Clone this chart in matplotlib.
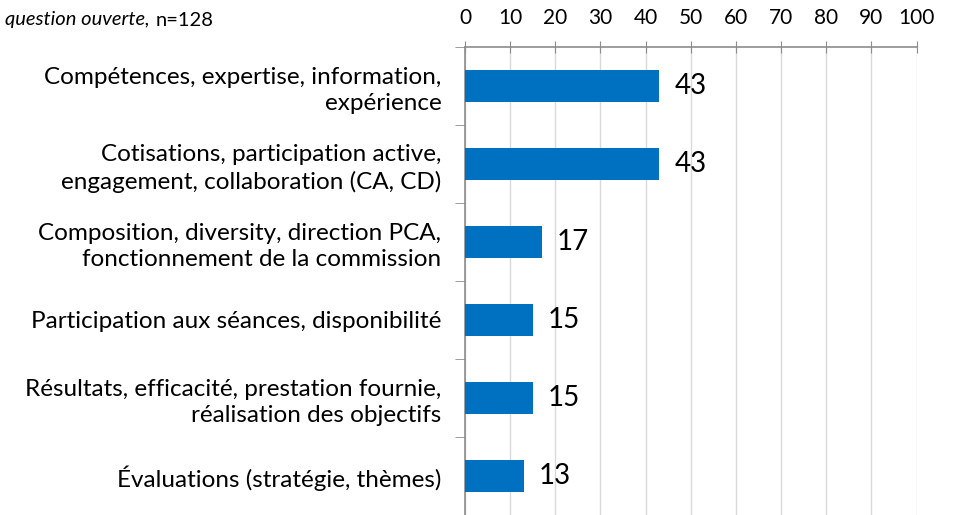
import matplotlib.pyplot as plt
import numpy as np

categories = [
    "Compétences, expertise, information,\nexpérience",
    "Cotisations, participation active,\nengagement, collaboration (CA, CD)",
    "Composition, diversity, direction PCA,\nfonctionnement de la commission",
    "Participation aux séances, disponibilité",
    "Résultats, efficacité, prestation fournie,\nréalisation des objectifs",
    "Évaluations (stratégie, thèmes)",
]
values = [43, 43, 17, 15, 15, 13]
xticks = list(range(0, 101, 10))

plt.rcParams['font.family'] = ['Lato', 'DejaVu Sans']

fig = plt.figure(figsize=(9.66, 5.15), dpi=100)
ax = fig.add_axes([465 / 966, 0.0, (916.5 - 465) / 966, (515 - 47) / 515])

ypos = np.arange(len(categories))
ax.barh(ypos, values, height=0.4, color='#0070C0', zorder=3)
for y, v in zip(ypos, values):
    ax.annotate(str(v), (v, y), xytext=(11, 0), textcoords='offset points',
                va='center', ha='left', fontsize=20, color='black')

ax.set_xlim(0, 100)
ax.set_ylim(len(categories) - 0.5, -0.5)
ax.xaxis.tick_top()
ax.set_xticks(xticks)
ax.tick_params(axis='x', direction='inout', length=9, color='#8c8c8c',
               labelsize=15, pad=9)
ax.grid(axis='x', color='#d9d9d9', linewidth=1, zorder=0)

ax.set_yticks(ypos)
ax.set_yticklabels(categories, fontsize=17.5, linespacing=1.3)
ax.set_yticks(np.arange(len(categories) + 1) - 0.5, minor=True)
ax.tick_params(axis='y', which='major', length=0, pad=17)
ax.tick_params(axis='y', which='minor', length=7, color='#8c8c8c')

for side in ['right', 'bottom']:
    ax.spines[side].set_visible(False)
for side in ['top', 'left']:
    ax.spines[side].set_color('#8c8c8c')
    ax.spines[side].set_linewidth(1.2)

t1 = fig.text(5 / 966, 1 - 20 / 515, "question ouverte,", fontsize=14.5,
              style='italic', va='center', ha='left')
ax.annotate("n=128", xy=(1, 0.5), xycoords=t1, xytext=(4, 0),
            textcoords='offset points', fontsize=14.5, va='center', ha='left',
            annotation_clip=False)

fig.savefig('out.png', dpi=100)
